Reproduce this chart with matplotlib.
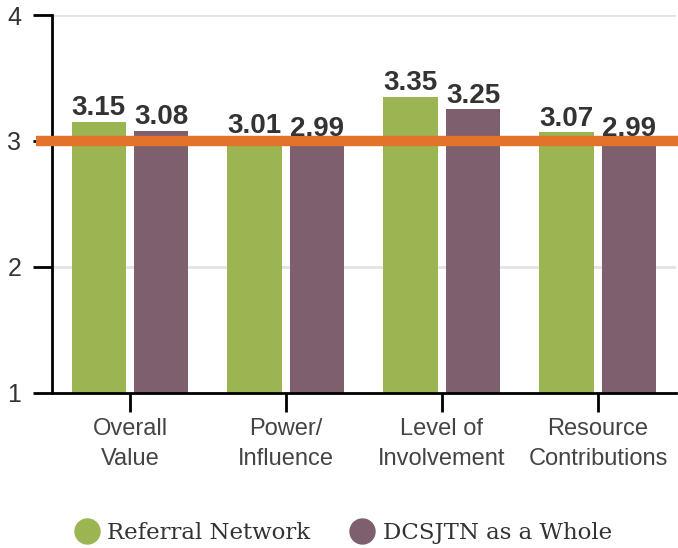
import matplotlib
matplotlib.use("Agg")
import matplotlib.pyplot as plt
from matplotlib.lines import Line2D
import numpy as np

categories = ["Overall\nValue", "Power/\nInfluence", "Level of\nInvolvement", "Resource\nContributions"]
referral = [3.15, 3.01, 3.35, 3.07]
whole = [3.08, 2.99, 3.25, 2.99]
series_names = ["Referral Network", "DCSJTN as a Whole"]
benchmark = 3.0
yticks = [1, 2, 3, 4]

green = "#9BB553"
purple = "#7E5F6D"
orange = "#E3722A"
text_c = "#333333"

fig = plt.figure(figsize=(6.78, 5.48), dpi=100)
ax = fig.add_axes([0.0767, 0.283, 0.9203, 0.6896])

x = np.arange(len(categories))
w = 0.35
off = 0.2
ax.bar(x - off, np.array(referral) - 1, w, bottom=1, color=green, zorder=2)
ax.bar(x + off, np.array(whole) - 1, w, bottom=1, color=purple, zorder=2)

for xs, vals in ((x - off, referral), (x + off, whole)):
    for xi, v in zip(xs, vals):
        ax.text(xi, v + 0.005, f"{v:.2f}", ha="center", va="bottom",
                fontsize=20, fontweight="bold", color=text_c,
                family="Liberation Sans", zorder=4)

ax.set_ylim(1, 4)
ax.set_xlim(-0.5, 3.5)
ax.set_yticks(yticks)
ax.set_yticklabels([str(t) for t in yticks], fontsize=18, color=text_c, family="Liberation Sans")
ax.set_xticks(x)
ax.set_xticklabels(categories, fontsize=17, color="#444444", family="Liberation Sans", linespacing=1.5)

for g in (2, 3, 4):
    ax.axhline(g, color="#e3e3e3", lw=2, zorder=1)

# benchmark line extends left of spine
ax.add_line(Line2D([-0.6, 3.6], [benchmark, benchmark], color=orange, lw=7.5,
                   zorder=3, clip_on=False, solid_capstyle="butt"))
ax.set_xlim(-0.5, 3.5)

for s in ("top", "right"):
    ax.spines[s].set_visible(False)
for s in ("left", "bottom"):
    ax.spines[s].set_linewidth(2)
    ax.spines[s].set_color("black")
ax.tick_params(axis="y", length=14, width=2, pad=8)
ax.tick_params(axis="x", length=14, width=2, pad=4)

# legend
handles = [Line2D([], [], marker="o", ls="", markersize=18, color=c) for c in (green, purple)]
fig.legend(handles, series_names, loc="center", bbox_to_anchor=(0.506, 0.027), ncol=2,
           frameon=False, prop={"family": "DejaVu Serif", "size": 16.5}, handletextpad=0.35,
           columnspacing=1.7, handlelength=1.1, labelcolor=text_c)

fig.savefig("out.png", dpi=100)
